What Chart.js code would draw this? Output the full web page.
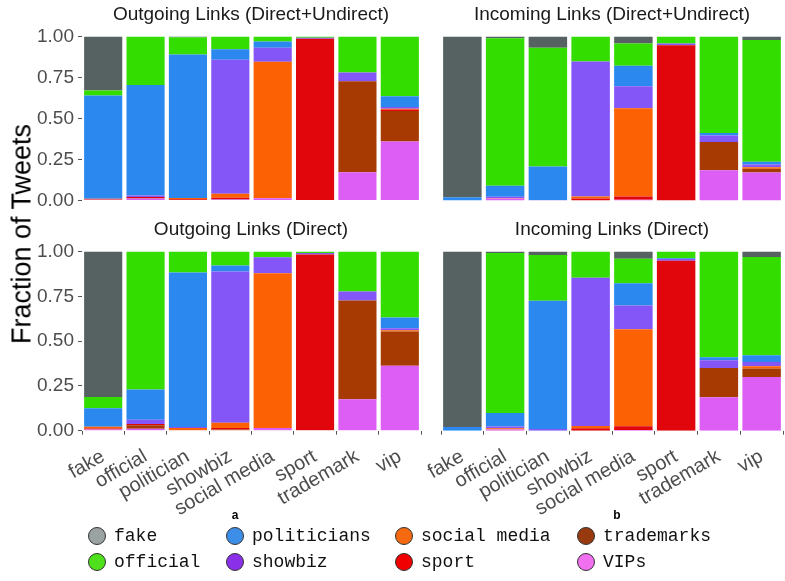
<!DOCTYPE html>
<html><head><meta charset="utf-8">
<script src="https://cdn.jsdelivr.net/npm/chart.js@4.4.1/dist/chart.umd.min.js"></script>
<style>
html,body{margin:0;padding:0;background:#fff;width:785px;height:581px;overflow:hidden;}
canvas{position:absolute;left:0;top:0;}
.t{position:absolute;font-family:"Liberation Sans",Arial,sans-serif;font-size:19px;color:#1a1a1a;white-space:nowrap;transform:translate(-50%,-50%);}
.ylab{position:absolute;left:22px;top:234px;font-family:"Liberation Sans",Arial,sans-serif;font-size:27px;color:#000;white-space:nowrap;transform:translate(-50%,-50%) rotate(-90deg);}
.lg{position:absolute;font-family:"Liberation Mono","DejaVu Sans Mono",monospace;font-size:18px;color:#111;white-space:nowrap;transform:translateY(-50%);}
.dot{position:absolute;width:16px;height:16px;border-radius:50%;border:1px solid #333;transform:translate(-50%,-50%);}
.ab{position:absolute;font-family:"Liberation Sans",Arial,sans-serif;font-weight:bold;font-size:12px;color:#000;transform:translate(-50%,-50%);}
</style></head>
<body>
<canvas id="c1" width="785" height="581"></canvas>
<canvas id="c2" width="785" height="581"></canvas>
<canvas id="c3" width="785" height="581"></canvas>
<canvas id="c4" width="785" height="581"></canvas>

<div class="t" style="left:251px;top:14px;">Outgoing Links (Direct+Undirect)</div>
<div class="t" style="left:612px;top:14px;">Incoming Links (Direct+Undirect)</div>
<div class="t" style="left:251px;top:229px;">Outgoing Links (Direct)</div>
<div class="t" style="left:612px;top:229px;">Incoming Links (Direct)</div>
<div class="ylab">Fraction of Tweets</div>
<div class="ab" style="left:235px;top:515px;">a</div>
<div class="ab" style="left:617px;top:515px;">b</div>
<div id="legend"></div>

<script>
// Categories (x axis) and y tick labels
const categories = ["fake", "official", "politician", "showbiz", "social media", "sport", "trademark", "vip"];
const yTicks = [0, 0.25, 0.5, 0.75, 1.0];
const seriesNames = ["fake", "official", "politicians", "showbiz", "social media", "sport", "trademarks", "VIPs"];

// Panel 1: Outgoing Links (Direct+Undirect)
const outDU_fake        = [0.329, 0,     0.004, 0,     0,     0,     0,     0];
const outDU_official    = [0.030, 0.295, 0.105, 0.077, 0.030, 0.008, 0.220, 0.364];
const outDU_politicians = [0.631, 0.675, 0.876, 0.065, 0.039, 0,     0,     0.066];
const outDU_showbiz     = [0,     0.008, 0,     0.817, 0.085, 0.006, 0.053, 0.010];
const outDU_socialmedia = [0.002, 0,     0.008, 0.024, 0.832, 0,     0,     0.006];
const outDU_sport       = [0.004, 0.006, 0.004, 0.008, 0,     0.986, 0,     0.008];
const outDU_trademarks  = [0,     0.004, 0,     0.003, 0,     0,     0.555, 0.187];
const outDU_vips        = [0.004, 0.012, 0.003, 0.006, 0.014, 0,     0.172, 0.359];

// Panel 2: Incoming Links (Direct+Undirect)
const inDU_fake        = [0.980, 0.010, 0.069, 0,     0.043, 0,     0,     0.022];
const inDU_official    = [0,     0.900, 0.724, 0.152, 0.136, 0.043, 0.589, 0.742];
const inDU_politicians = [0.020, 0.067, 0.205, 0,     0.124, 0,     0.014, 0.016];
const inDU_showbiz     = [0,     0.008, 0,     0.824, 0.134, 0.010, 0.041, 0.018];
const inDU_socialmedia = [0,     0.003, 0,     0.012, 0.539, 0,     0,     0.008];
const inDU_sport       = [0,     0,     0,     0.012, 0.020, 0.947, 0,     0];
const inDU_trademarks  = [0,     0,     0,     0,     0,     0,     0.171, 0.023];
const inDU_vips        = [0,     0.012, 0.002, 0,     0.004, 0,     0.185, 0.171];

// Panel 3: Outgoing Links (Direct)
const outD_fake        = [0.812, 0,     0,     0,     0,     0,     0,     0];
const outD_official    = [0.063, 0.770, 0.117, 0.078, 0.032, 0.009, 0.223, 0.368];
const outD_politicians = [0.103, 0.169, 0.863, 0.033, 0,     0,     0,     0.060];
const outD_showbiz     = [0,     0.024, 0.005, 0.844, 0.089, 0.008, 0.050, 0.011];
const outD_socialmedia = [0.010, 0,     0.015, 0.030, 0.864, 0,     0,     0.007];
const outD_sport       = [0.006, 0.007, 0,     0.008, 0,     0.983, 0,     0];
const outD_trademarks  = [0,     0.019, 0,     0.007, 0,     0,     0.552, 0.191];
const outD_vips        = [0.006, 0.011, 0,     0,     0.015, 0,     0.175, 0.363];

// Panel 4: Incoming Links (Direct)
const inD_fake        = [0.979, 0.009, 0.019, 0,     0.041, 0,     0,     0.030];
const inD_official    = [0,     0.892, 0.256, 0.146, 0.136, 0.037, 0.590, 0.549];
const inD_politicians = [0.021, 0.075, 0.716, 0,     0.125, 0.005, 0.017, 0.037];
const inD_showbiz     = [0,     0.011, 0.009, 0.828, 0.132, 0.009, 0.043, 0.024];
const inD_socialmedia = [0,     0.006, 0,     0.013, 0.541, 0,     0,     0.013];
const inD_sport       = [0,     0,     0,     0.013, 0.021, 0.949, 0,     0];
const inD_trademarks  = [0,     0,     0,     0,     0,     0,     0.164, 0.048];
const inD_vips        = [0,     0.007, 0,     0,     0.004, 0,     0.186, 0.299];

const barColors = {
  "fake": "#566161", "official": "#33dd00", "politicians": "#2b88ee", "showbiz": "#8455f7",
  "social media": "#fc6203", "sport": "#e0060b", "trademarks": "#a63a02", "VIPs": "#dd5ef5"
};
const legendColors = {
  "fake": "#9aa2a2", "official": "#4ee01a", "politicians": "#3d8ee8", "showbiz": "#8a30e8",
  "social media": "#f56a10", "sport": "#f00000", "trademarks": "#983a10", "VIPs": "#f070f0"
};

function panelSeries(a) { // a: arrays in seriesNames order
  const out = {};
  seriesNames.forEach((n, i) => out[n] = a[i]);
  return out;
}
const panels = [
  panelSeries([outDU_fake, outDU_official, outDU_politicians, outDU_showbiz, outDU_socialmedia, outDU_sport, outDU_trademarks, outDU_vips]),
  panelSeries([inDU_fake, inDU_official, inDU_politicians, inDU_showbiz, inDU_socialmedia, inDU_sport, inDU_trademarks, inDU_vips]),
  panelSeries([outD_fake, outD_official, outD_politicians, outD_showbiz, outD_socialmedia, outD_sport, outD_trademarks, outD_vips]),
  panelSeries([inD_fake, inD_official, inD_politicians, inD_showbiz, inD_socialmedia, inD_sport, inD_trademarks, inD_vips])
];

const W = 785, H = 581;
const leftL = 82, leftR = 421, rightL = 441, rightR = 783;
const topT = 36.5, topB = 200.5, botT = 251.5, botB = 430.7;
const xAxisH = 110;

function makeChart(id, data, isLeft, isBottom) {
  const stackOrder = seriesNames.slice().reverse(); // bottom first
  const datasets = stackOrder.map(n => ({
    label: n, data: data[n], backgroundColor: barColors[n], borderWidth: 0,
    barPercentage: 1.0, categoryPercentage: 0.9
  }));
  const pad = {
    left: isLeft ? 0 : rightL,
    right: isLeft ? W - leftR : W - rightR,
    top: isBottom ? botT : topT,
    bottom: isBottom ? (H - botB - xAxisH) : (H - topB)
  };
  new Chart(document.getElementById(id), {
    type: 'bar',
    data: { labels: categories, datasets },
    options: {
      responsive: false, animation: false, devicePixelRatio: 1,
      layout: { padding: pad },
      plugins: { legend: { display: false }, tooltip: { enabled: false } },
      scales: {
        x: {
          stacked: true, display: isBottom, offset: true,
          afterFit: s => { s.height = isBottom ? xAxisH : 0; },
          grid: { drawOnChartArea: false, drawTicks: true, tickLength: 4, color: '#555' },
          border: { display: false },
          ticks: { autoSkip: false, maxRotation: 30, minRotation: 30, padding: 10,
                   color: '#4d4d4d', font: { family: 'Liberation Sans', size: 20 } }
        },
        y: {
          stacked: true, display: isLeft, min: 0, max: 1,
          afterFit: s => { s.width = isLeft ? leftL : 0; },
          afterBuildTicks: s => { s.ticks = yTicks.map(v => ({ value: v })); },
          grid: { drawOnChartArea: false, drawTicks: true, tickLength: 4, color: '#555' },
          border: { display: false },
          ticks: { autoSkip: false, padding: 4, color: '#4d4d4d', font: { family: 'Liberation Sans', size: 19 },
                   callback: v => Number(v).toFixed(2) }
        }
      }
    }
  });
}
makeChart('c1', panels[0], true, false);
makeChart('c2', panels[1], false, false);
makeChart('c3', panels[2], true, true);
makeChart('c4', panels[3], false, true);

// Legend
const legendLayout = [
  ["fake", 97, 535.5], ["politicians", 235, 535.5], ["social media", 404, 535.5], ["trademarks", 586, 535.5],
  ["official", 97, 562], ["showbiz", 235, 562], ["sport", 404, 562], ["VIPs", 586, 562]
];
const lg = document.getElementById('legend');
legendLayout.forEach(([n, x, y]) => {
  const d = document.createElement('div');
  d.className = 'dot';
  d.style.left = x + 'px'; d.style.top = y + 'px'; d.style.background = legendColors[n];
  lg.appendChild(d);
  const t = document.createElement('div');
  t.className = 'lg';
  t.style.left = (x + 17) + 'px'; t.style.top = y + 'px';
  t.textContent = n;
  lg.appendChild(t);
});
</script>
</body></html>
